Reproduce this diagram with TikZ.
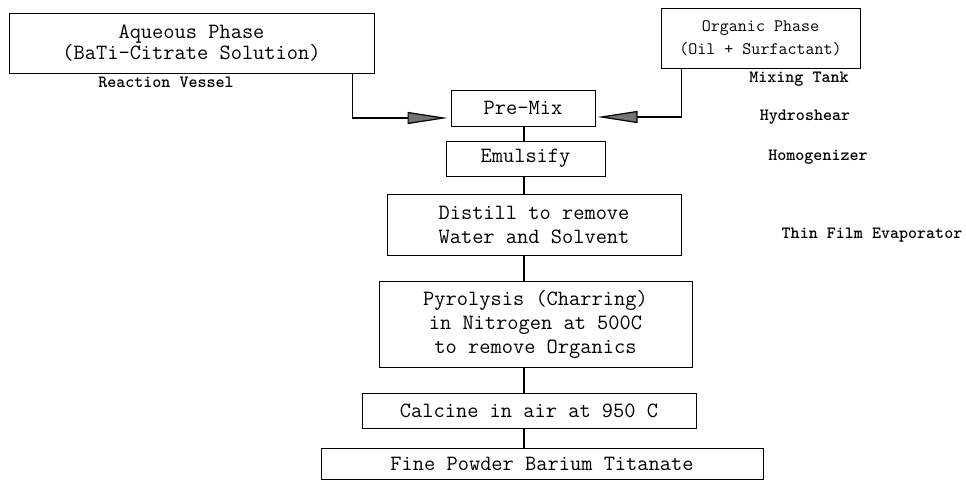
\documentclass[tikz,border=0pt]{standalone}
\usepackage{fontspec}
\usepackage{tikz}
\usetikzlibrary{arrows.meta,positioning}

\begin{document}
\begin{tikzpicture}[
  x=1pt, y=-1pt,
  box/.style={
    rectangle, draw=black, line width=1pt,
    font=\ttfamily\fontsize{21.8}{24}\selectfont,
    align=center, inner sep=0pt
  },
  sbox/.style={
    font=\ttfamily\bfseries\fontsize{17.2}{18}\selectfont,
    inner sep=0pt
  },
  link/.style={line width=1.2pt, black},
  arr/.style={-{Triangle[length=40pt, width=12pt, fill=black!55]}, line width=1.2pt, black}
]
\useasboundingbox (0,0) rectangle (966,483);
\coordinate (spine) at (524,0);
\node[box, minimum width=365pt, minimum height=60pt] (aqueous) at (191.5,43)
  {Aqueous Phase\\[-3pt](BaTi-Citrate Solution)};
\node[box, minimum width=199pt, minimum height=60pt,
      font=\ttfamily\fontsize{17.5}{24}\selectfont] (organic) at (760.5,38)
  {Organic Phase\\[-1pt](Oil + Surfactant)};
\node[box, minimum width=144pt, minimum height=36pt] (premix)   at (523,108)   {Pre-Mix};
\node[box, minimum width=159pt, minimum height=35pt] (emulsify) at (525.5,158.5) {Emulsify};
\node[box, minimum width=294pt, minimum height=61pt] (distill)  at (534,224.5) {Distill to remove\\Water and Solvent};
\node[box, minimum width=313pt, minimum height=86pt] (pyro)     at (535.5,324)
  {Pyrolysis (Charring)\\in Nitrogen at 500C\\to remove Organics};
\node[box, minimum width=334pt, minimum height=35pt] (calcine)  at (529,410.5) {Calcine in air at 950 C};
\node[box, minimum width=442pt, minimum height=31pt] (powder)   at (542,463.5) {Fine Powder Barium Titanate};
\node[sbox] (vessel)    at (166,82)  {Reaction Vessel};
\node[sbox] (tank)      at (799,79)  {Mixing Tank};
\node[sbox] (shear)     at (805,117) {Hydroshear};
\node[sbox] (homog)     at (818,157) {Homogenizer};
\node[sbox] (evap)      at (872,235) {Thin Film Evaporator};
\draw[arr, shorten >=3pt] ([xshift=-22pt]aqueous.south east) |- ([yshift=-10pt]premix.west);
\draw[arr, shorten >=2pt] ([xshift=21pt]organic.south west) |- ([yshift=-9pt]premix.east);
\foreach \a/\b in {premix/emulsify, emulsify/distill, distill/pyro, pyro/calcine, calcine/powder}
  \draw[link] (spine |- \a.south) -- (spine |- \b.north);
\end{tikzpicture}
\end{document}
